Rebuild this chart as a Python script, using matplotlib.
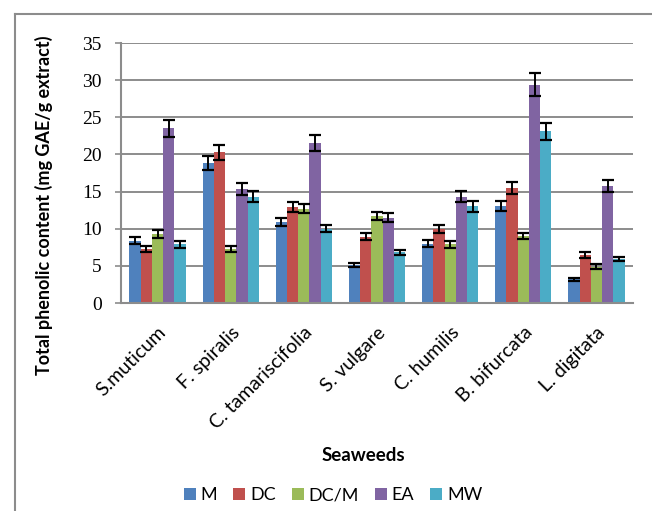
import matplotlib.pyplot as plt
from matplotlib.lines import Line2D
import numpy as np

seaweeds = ['S.muticum', 'F. spiralis', 'C. tamariscifolia', 'S. vulgare',
            'C. humilis', 'B. bifurcata', 'L. digitata']
extracts = ['M', 'DC', 'DC/M', 'EA', 'MW']

m_vals = [8.4, 18.9, 10.9, 5.1, 8.0, 13.0, 3.2]
dc_vals = [7.3, 20.3, 12.9, 8.9, 10.0, 15.5, 6.5]
dcm_vals = [9.3, 7.3, 12.7, 11.7, 7.9, 9.0, 4.9]
ea_vals = [23.5, 15.3, 21.6, 11.5, 14.3, 29.4, 15.7]
mw_vals = [7.9, 14.3, 10.0, 6.8, 13.0, 23.1, 5.9]

m_err = [0.43, 0.95, 0.56, 0.3, 0.43, 0.68, 0.2]
dc_err = [0.4, 1.03, 0.68, 0.47, 0.52, 0.8, 0.38]
dcm_err = [0.5, 0.4, 0.65, 0.56, 0.43, 0.45, 0.3]
ea_err = [1.17, 0.8, 1.08, 0.6, 0.72, 1.5, 0.8]
mw_err = [0.43, 0.72, 0.5, 0.36, 0.7, 1.17, 0.3]

series = [m_vals, dc_vals, dcm_vals, ea_vals, mw_vals]
errors = [m_err, dc_err, dcm_err, ea_err, mw_err]
colors = ['#4F81BD', '#C0504D', '#9BBB59', '#8064A2', '#4BACC6']

W, H = 652, 511
fig = plt.figure(figsize=(W / 100, H / 100), dpi=100)
ax = fig.add_axes([121 / W, (H - 303) / H, (633 - 121) / W, (303 - 43) / H])

# chart border (left and top edges)
fig.add_artist(Line2D([14.5 / W, 14.5 / W], [0, 1 - 14.5 / H], color='#8c8c8c', lw=1.5))
fig.add_artist(Line2D([14.5 / W, 1], [1 - 14.5 / H, 1 - 14.5 / H], color='#8c8c8c', lw=1.5))

n = len(extracts)
bw = 1 / (n + 1.5)
x = np.arange(len(seaweeds)) + 0.5
for i, (vals, err, c, lab) in enumerate(zip(series, errors, colors, extracts)):
    pos = x + (i - (n - 1) / 2) * bw
    ax.bar(pos, vals, bw, color=c, label=lab, zorder=2)
    ax.errorbar(pos, vals, yerr=err, fmt='none', ecolor='black',
                elinewidth=1.4, capsize=4, capthick=1.6, zorder=3)

ax.set_xlim(0, len(seaweeds))
ax.set_ylim(0, 35)
ax.set_yticks(range(0, 36, 5))
ax.yaxis.grid(True, color='#8c8c8c', lw=1.4, zorder=0)
ax.set_axisbelow(True)
for s in ['top', 'right']:
    ax.spines[s].set_visible(False)
for s in ['left', 'bottom']:
    ax.spines[s].set_color('#8c8c8c')
    ax.spines[s].set_linewidth(1.5)

ax.tick_params(axis='y', length=4, color='#8c8c8c', width=1.2, pad=10)
for t in ax.get_yticklabels():
    t.set_fontfamily('Liberation Serif')
    t.set_fontsize(14)

ax.set_xticks(x)
ax.set_xticklabels(seaweeds, rotation=45, ha='right', rotation_mode='anchor',
                   fontfamily='Lato', fontsize=14)
ax.tick_params(axis='x', length=0, pad=15)

fig.text(44 / W, 1 - 205 / H, 'Total phenolic content (mg GAE/g extract)',
         rotation=90, ha='center', va='center', fontfamily='Lato',
         fontweight='bold', fontsize=13)
fig.text(363 / W, 1 - 455 / H, 'Seaweeds', ha='center', va='center',
         fontfamily='Lato', fontweight='bold', fontsize=13.5)

fig.legend(loc='center', bbox_to_anchor=(333 / W, 1 - 495 / H), ncol=5,
           frameon=False, prop={'family': 'Lato', 'size': 13},
           handlelength=0.67, handleheight=0.67, handletextpad=0.25,
           columnspacing=0.9)

fig.savefig('out.png', dpi=100)
